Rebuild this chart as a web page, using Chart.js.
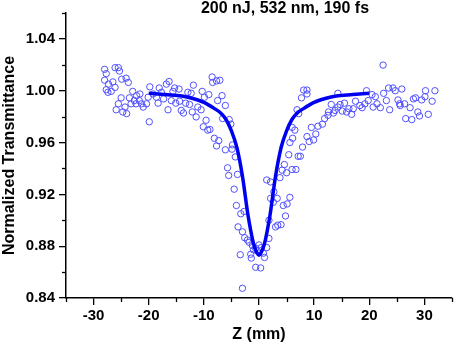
<!DOCTYPE html>
<html>
<head>
<meta charset="utf-8">
<script src="https://cdn.jsdelivr.net/npm/chart.js@4.4.1/dist/chart.umd.min.js"></script>
<style>
  html, body { margin: 0; padding: 0; background: #fff; }
  #wrap { width: 457px; height: 346px; }
</style>
</head>
<body>
<div id="wrap"><canvas id="zscan" width="457" height="346"></canvas></div>
<script>
// measured points (Z in mm, normalized transmittance)
const zPos = [
  -28.0, -27.7, -28.0, -27.3, -27.7, -27.4, -26.8, -26.5, -26.1, -25.5,
  -25.3, -24.9, -24.1, -23.7, -26.1, -25.0, -25.5, -25.9, -24.7, -24.0,
  -24.3, -23.5, -22.9, -23.2, -22.6, -22.2, -22.3, -21.6, -21.7, -21.3,
  -21.0, -20.4, -19.8, -20.1, -19.9, -19.2, -18.6, -18.1, -17.7, -18.3,
  -17.3, -16.8, -16.3, -16.5, -15.9, -15.6, -15.3, -15.1, -14.4, -14.5,
  -14.1, -13.7, -13.3, -12.9, -12.6, -12.3, -11.9, -12.1, -11.4, -11.1,
  -10.5, -10.3, -9.9, -10.1, -9.6, -9.3, -8.9, -9.1, -8.5, -8.4,
  -7.7, -7.1, -7.5, -6.7, -6.6, -8.1, -7.3, -7.7, -6.1, -5.7,
  -5.5, -6.1, -5.4, -5.1, -4.8, -4.9, -4.3, -3.9, -4.5, -4.1,
  -3.3, -2.7, -3.8, -3.0, -2.6, -2.1, -1.8, -1.2, -1.0, -1.5,
  -1.4, -0.6, -0.3, 0.0, 0.4, 0.8, 1.0, 1.4, 1.8, -3.4,
  -0.6, 0.3, -3.0, 1.4, 2.1, 2.7, 2.1, 2.6, 3.3, 1.8,
  3.0, 3.4, 4.0, 4.4, 4.8, 5.1, 5.6, 3.8, 4.2, 4.6,
  5.0, 5.4, 5.6, 6.0, 6.0, 6.1, 6.7, 7.1, 7.5, 6.5,
  7.2, 6.9, 7.7, 8.1, 8.7, 8.7, 7.9, 8.7, 9.5, 9.1,
  9.9, 10.3, 10.7, 11.5, 11.9, 12.6, 13.1, 13.5, 14.3, 14.3,
  14.7, 15.1, 15.5, 15.9, 16.3, 16.8, 17.1, 17.5, 18.3, 18.7,
  19.2, 19.5, 19.8, 20.5, 20.7, 21.1, 21.4, 22.0, 22.5, 22.6,
  23.1, 23.5, 23.7, 24.3, 24.7, 25.2, 25.5, 25.9, 25.6, 26.4,
  26.6, 27.4, 27.7, 28.0, 28.4, 28.8, 29.1, 29.5, 30.1, 30.2,
  30.7, 31.4, 31.9, 12.5, 13.8
];
const transmittance = [
  1.0165, 1.0132, 1.0081, 1.0051, 1.0008, 0.9988, 0.9995, 1.0068, 1.0178, 1.0178,
  1.0152, 1.0089, 1.0097, 1.0064, 1.0026, 0.9945, 0.9899, 0.9853, 0.9836, 0.9823,
  0.9874, 0.9945, 0.9995, 0.9899, 0.9924, 0.9962, 0.9899, 0.9975, 0.9924, 0.9899,
  0.9874, 0.9899, 1.0030, 0.9950, 0.9760, 0.9975, 0.9950, 1.0021, 0.9988, 0.9904,
  0.9937, 1.0051, 1.0071, 0.9853, 0.9924, 0.9995, 1.0021, 0.9904, 0.9919, 1.0013,
  0.9848, 0.9828, 0.9904, 0.9988, 0.9894, 0.9980, 1.0043, 0.9836, 0.9798, 0.9874,
  0.9853, 0.9995, 0.9950, 0.9722, 0.9772, 0.9696, 0.9701, 0.9970, 1.0106, 1.0064,
  1.0076, 1.0081, 0.9924, 0.9962, 0.9785, 0.9633, 0.9615, 0.9574, 0.9544, 0.9405,
  0.9346, 0.9886, 0.9777, 0.9742, 0.9582, 0.9549, 0.9489, 0.9354, 0.9240, 0.9114,
  0.9050, 0.9068, 0.8949, 0.8911, 0.8865, 0.8848, 0.8830, 0.8805, 0.8772, 0.8738,
  0.8708, 0.8784, 0.8764, 0.8810, 0.8789, 0.8746, 0.8713, 0.8789, 0.8860, 0.8734,
  0.8637, 0.8632, 0.8475, 0.9311, 0.9296, 0.9220, 0.9169, 0.9139, 0.9169, 0.9000,
  0.8949, 0.8962, 0.8966, 0.9114, 0.9033, 0.9126, 0.9177, 0.9329, 0.9387, 0.9430,
  0.9367, 0.9506, 0.9600, 0.9717, 0.9392, 0.9633, 0.9392, 0.9494, 0.9494, 0.9696,
  0.9823, 0.9853, 0.9945, 1.0005, 1.0005, 0.9975, 0.9565, 0.9646, 0.9717, 0.9608,
  0.9620, 0.9666, 0.9726, 0.9742, 0.9785, 0.9836, 0.9894, 0.9828, 0.9980, 0.9874,
  0.9894, 0.9843, 0.9904, 0.9836, 0.9861, 0.9818, 0.9861, 0.9919, 0.9886, 0.9869,
  0.9899, 1.0000, 0.9924, 0.9970, 0.9874, 0.9954, 0.9899, 0.9869, 1.0198, 0.9980,
  0.9924, 1.0021, 0.9853, 1.0021, 1.0000, 0.9929, 0.9899, 1.0013, 0.9886, 0.9899,
  0.9785, 0.9869, 0.9777, 0.9937, 0.9945, 0.9836, 0.9805, 0.9929, 0.9954, 1.0000,
  0.9818, 0.9919, 1.0000, 0.9810, 0.9848
];

// fitted curve
const fitZ = [-20, -17, -14, -12, -10, -8, -7, -6, -5, -4, -3, -2, -1.5, -1, -0.5, 0,
              0.5, 1, 1.5, 2, 3, 4, 5, 6, 7, 8, 10, 12, 14, 17, 20];
const fitT = [0.998, 0.997, 0.996, 0.994, 0.991, 0.986, 0.983, 0.978, 0.969, 0.956, 0.934, 0.904, 0.892, 0.882, 0.876, 0.873,
              0.876, 0.882, 0.892, 0.904, 0.934, 0.956, 0.969, 0.978, 0.983, 0.986, 0.991, 0.994, 0.996, 0.997, 0.998];

// axis ticks
const xTicks = [-30, -20, -10, 0, 10, 20, 30];
const xMinor = [-35, -25, -15, -5, 5, 15, 25, 35];
const yTicks = [0.84, 0.88, 0.92, 0.96, 1.00, 1.04];
const yMinor = [0.86, 0.90, 0.94, 0.98, 1.02, 1.06];

const plotTitle = '200 nJ, 532 nm, 190 fs';
const FONT = '"Liberation Sans", Arial, sans-serif';

// kleine ticks + titel
const extrasPlugin = {
  id: 'extras',
  afterDraw(chart) {
    const ctx = chart.ctx;
    const xs = chart.scales.x, ys = chart.scales.y;
    const area = chart.chartArea;
    ctx.save();
    ctx.strokeStyle = '#000';
    ctx.lineWidth = 1.3;
    xMinor.forEach(v => {
      const px = Math.round(xs.getPixelForValue(v)) + 0.5;
      ctx.beginPath();
      ctx.moveTo(px, area.bottom);
      ctx.lineTo(px, area.bottom + 4);
      ctx.stroke();
    });
    yMinor.forEach(v => {
      const py = Math.round(ys.getPixelForValue(v)) + 0.5;
      ctx.beginPath();
      ctx.moveTo(area.left, py);
      ctx.lineTo(area.left - 4, py);
      ctx.stroke();
    });
    ctx.fillStyle = '#000';
    ctx.font = 'bold 16px ' + FONT;
    ctx.textAlign = 'center';
    ctx.textBaseline = 'middle';
    ctx.fillText(plotTitle, 285, 9);
    ctx.restore();
  }
};

const ctx = document.getElementById('zscan').getContext('2d');
const zChart = new Chart(ctx, {
  type: 'scatter',
  data: {
    datasets: [
      {
        type: 'line',
        label: 'fit',
        data: fitZ.map((z, i) => ({ x: z, y: fitT[i] })),
        borderColor: '#0000f0',
        borderWidth: 3.5,
        pointRadius: 0,
        fill: false,
        cubicInterpolationMode: 'monotone',
        order: 0
      },
      {
        label: 'data',
        data: zPos.map((z, i) => ({ x: z, y: transmittance[i] })),
        borderColor: '#5050ff',
        backgroundColor: 'rgba(0,0,0,0)',
        borderWidth: 1,
        pointRadius: 3.2,
        pointStyle: 'circle',
        order: 1
      }
    ]
  },
  options: {
    responsive: false,
    animation: false,
    layout: { padding: { top: 8, right: 2, left: 0, bottom: 0 } },
    plugins: {
      legend: { display: false },
      tooltip: { enabled: false },
      title: { display: false }
    },
    scales: {
      x: {
        type: 'linear',
        min: -35,
        max: 35,
        afterBuildTicks: scale => { scale.ticks = xTicks.map(v => ({ value: v })); },
        afterFit: scale => { scale.height = 48; },
        grid: { drawOnChartArea: false, drawTicks: true, tickLength: 7, color: '#000', lineWidth: 1.3 },
        border: { display: true, color: '#000', width: 1.5 },
        ticks: {
          padding: 2,
          color: '#000',
          font: { family: FONT, size: 15, weight: 'bold' },
          callback: v => String(v)
        },
        title: {
          display: true,
          text: 'Z (mm)',
          color: '#000',
          font: { family: FONT, size: 16, weight: 'bold' },
          padding: { top: 2, bottom: 2 }
        }
      },
      y: {
        type: 'linear',
        min: 0.84,
        max: 1.06,
        afterBuildTicks: scale => { scale.ticks = yTicks.map(v => ({ value: v })); },
        afterFit: scale => { scale.width = 66; },
        grid: { drawOnChartArea: false, drawTicks: true, tickLength: 7, color: '#000', lineWidth: 1.3 },
        border: { display: true, color: '#000', width: 1.5 },
        ticks: {
          padding: 4,
          color: '#000',
          font: { family: FONT, size: 15, weight: 'bold' },
          callback: v => Number(v).toFixed(2)
        },
        title: {
          display: true,
          text: 'Normalized Transmittance',
          color: '#000',
          font: { family: FONT, size: 16, weight: 'bold' },
          padding: { top: 0, bottom: 0 }
        }
      }
    }
  },
  plugins: [extrasPlugin]
});
</script>
</body>
</html>
